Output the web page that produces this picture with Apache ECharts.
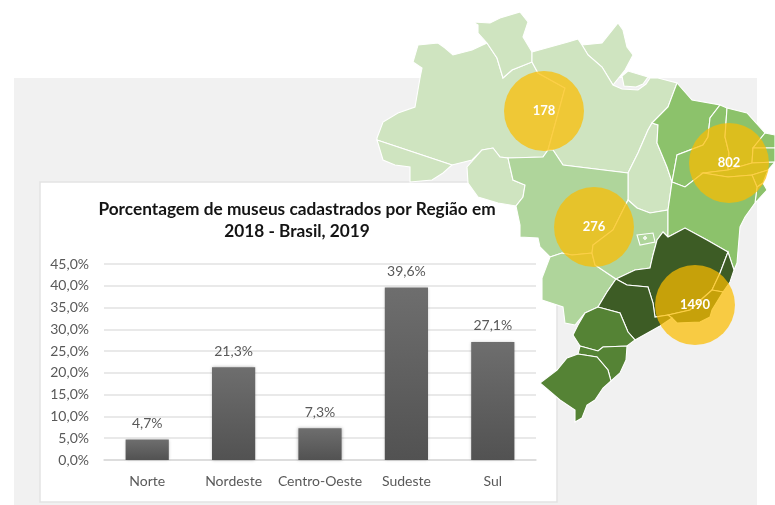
<!DOCTYPE html>
<html><head><meta charset="utf-8">
<style>html,body{margin:0;padding:0;background:#fff}#c{width:775px;height:505px;filter:blur(0.45px)}</style>
<script src="https://cdn.jsdelivr.net/npm/echarts@6/dist/echarts.min.js"></script>
</head><body><div id="c"></div>
<script>
const categories = ['Norte','Nordeste','Centro-Oeste','Sudeste','Sul'];
const percentages = [4.7,21.3,7.3,39.6,27.1];
const yTicks = {min:0,max:45,interval:5};
const titleText = 'Porcentagem de museus cadastrados por Região em\n2018 - Brasil, 2019';
const museumCounts = [178,802,276,1490];
const bubbleAnchors = [[544,111],[729,163],[594,227],[695,305]];

const regionColors = {N:'#cfe4c0',NE:'#8cc26b',CO:'#afd59b',SE:'#3d5c25',S:'#558335'};
const mapShapes = [
 ['AM','N',[[377,138],[383,122],[398,113],[415,107],[420,78],[422,68],[413,62],[418,45],[438,43],[445,48],[453,55],[472,50],[487,43],[497,58],[503,78],[512,70],[532,62],[538,73],[565,88],[548,150],[543,157],[508,158],[500,157],[493,148],[482,150],[472,160],[452,165],[377,140]]],
 ['AC','N',[[377,140],[452,165],[443,173],[432,180],[410,182],[410,167],[395,165],[383,160]]],
 ['RR','N',[[473,22],[490,23],[500,18],[520,12],[528,22],[523,37],[532,52],[532,62],[512,70],[503,78],[497,58],[487,43],[478,33],[478,25]]],
 ['AP','N',[[582,45],[602,43],[618,23],[623,30],[627,47],[633,55],[625,70],[613,85],[602,67],[588,55]]],
 ['PA','N',[[532,52],[568,42],[578,39],[582,45],[588,55],[602,67],[613,85],[622,89],[638,90],[646,84],[650,78],[658,78],[677,83],[668,107],[652,123],[648,130],[638,153],[628,173],[563,165],[553,150],[548,150],[565,88],[538,73],[532,62]]],
 ['MJ','N',[[622,76],[628,71],[648,77],[643,84],[636,87],[624,86]]],
 ['RO','N',[[467,167],[482,150],[493,148],[500,157],[508,158],[513,180],[525,185],[523,197],[516,206],[498,203],[478,197],[468,183]]],
 ['TO','N',[[628,173],[638,153],[648,130],[652,123],[658,125],[657,143],[667,167],[672,182],[668,210],[650,213],[637,208],[628,200]]],
 ['MT','CO',[[508,158],[543,157],[548,150],[553,150],[563,165],[628,173],[628,200],[613,230],[593,245],[592,253],[572,255],[562,253],[550,257],[540,247],[538,238],[520,237],[520,225],[516,206],[523,197],[525,185],[513,180]]],
 ['MS','CO',[[550,257],[562,253],[572,255],[592,253],[595,265],[616,279],[607,292],[598,307],[585,313],[575,325],[565,323],[563,307],[542,300],[542,278]]],
 ['GO','CO',[[628,200],[637,208],[650,213],[668,210],[668,237],[663,232],[657,240],[653,255],[650,268],[635,270],[616,279],[595,265],[592,253],[593,245],[613,230]]],
 ['DF','CO',[[637,235],[653,233],[655,242],[640,245]]],
 ['DFc','CO',[[645,236.5],[646.5,238],[645,239.5],[643.5,238]]],
 ['MA','NE',[[677,83],[692,100],[720,105],[710,118],[708,137],[703,145],[677,155],[672,182],[667,167],[657,143],[658,125],[652,123],[668,107]]],
 ['PI','NE',[[720,105],[727,108],[725,137],[729,153],[728,170],[703,173],[685,187],[672,182],[677,155],[703,145],[708,137],[710,118]]],
 ['CE','NE',[[727,108],[747,113],[765,133],[753,148],[752,163],[728,170],[729,153],[725,137]]],
 ['RN','NE',[[765,133],[775,135],[775,148],[753,148]]],
 ['PB','NE',[[753,148],[775,148],[775,162],[752,163]]],
 ['PE','NE',[[752,163],[775,162],[768,170],[752,175],[728,177],[703,173],[728,170]]],
 ['AL','NE',[[752,175],[768,170],[763,183],[757,187]]],
 ['SE','NE',[[757,187],[763,183],[767,190],[755,203]]],
 ['BA','NE',[[672,182],[685,187],[703,173],[728,177],[752,175],[757,187],[755,203],[745,217],[740,227],[737,263],[734,270],[728,252],[707,240],[685,228],[668,237],[668,210]]],
 ['MG','SE',[[663,232],[668,237],[685,228],[707,240],[728,252],[720,273],[712,290],[703,298],[690,310],[668,315],[655,317],[653,303],[648,287],[627,285],[616,279],[635,270],[650,268],[653,255],[657,240]]],
 ['ES','SE',[[728,252],[734,270],[730,282],[723,292],[712,290],[720,273]]],
 ['RJ','SE',[[668,315],[690,310],[703,298],[712,290],[723,292],[712,310],[710,317],[700,322],[677,323],[672,318]]],
 ['SP','SE',[[598,307],[607,292],[616,279],[627,285],[648,287],[653,303],[655,317],[668,315],[672,318],[660,326],[635,340],[628,332],[620,313]]],
 ['PR','S',[[585,313],[598,307],[620,313],[628,332],[635,340],[627,346],[603,347],[598,351],[580,346],[573,335],[578,325]]],
 ['SC','S',[[580,346],[598,351],[603,347],[627,346],[626,360],[620,373],[611,381],[608,370],[597,357],[578,354]]],
 ['RS','S',[[578,354],[597,357],[608,370],[611,381],[603,388],[595,400],[587,405],[582,418],[575,422],[575,410],[560,400],[540,383],[557,370],[567,358]]]
];

const geoJson = {type:'FeatureCollection',features:mapShapes.map(s=>({type:'Feature',properties:{name:s[0]},
  geometry:{type:'Polygon',coordinates:[[...s[2],s[2][0]]]}}))};
echarts.registerMap('brasil',geoJson);

const fmt = v => v.toFixed(1).replace('.',',')+'%';
const font = 'Lato, "Open Sans", sans-serif';
const chart = echarts.init(document.getElementById('c'),null,{renderer:'canvas'});
chart.setOption({
  animation:false,
  backgroundColor:'#fff',
  graphic:[
    {type:'rect',z:-20,silent:true,shape:{x:14,y:78,width:743,height:427},style:{fill:'#f1f1f1'}},
    {type:'rect',z:-10,silent:true,shape:{x:40,y:182,width:517,height:320},style:{fill:'#fff',stroke:'#e3e3e3',lineWidth:1.5}}
  ],
  title:{text:titleText,left:292,top:193,textAlign:'center',
    textStyle:{fontFamily:font,fontWeight:'bold',fontSize:17.25,lineHeight:22,color:'#141414'}},
  grid:{left:104,right:239,top:264,bottom:45},
  xAxis:{type:'category',data:categories,
    axisLine:{lineStyle:{color:'#d9d9d9',width:1.5}},axisTick:{show:false},
    axisLabel:{interval:0,margin:14,fontFamily:font,fontSize:14,color:'#595959'}},
  yAxis:{type:'value',min:yTicks.min,max:yTicks.max,interval:yTicks.interval,
    axisLine:{show:false},axisTick:{show:false},
    splitLine:{lineStyle:{color:'#e2e2e2',width:1.5}},
    axisLabel:{margin:15,fontFamily:font,fontSize:14,color:'#595959',formatter:fmt}},
  geo:{map:'brasil',silent:true,z:1,
    projection:{project:p=>p,unproject:p=>p},
    boundingCoords:[[0,0],[775,505]],left:0,top:0,width:775,height:505,
    roam:false,label:{show:false},
    itemStyle:{borderColor:'#fff',borderWidth:1.1},
    regions:mapShapes.map(s=>({name:s[0],itemStyle:{areaColor:regionColors[s[1]]}}))},
  series:[
    {type:'bar',data:percentages,barWidth:'50%',
     itemStyle:{color:new echarts.graphic.LinearGradient(0,0,0,1,[{offset:0,color:'#6e6e6e'},{offset:1,color:'#525252'}]),
       shadowBlur:3,shadowColor:'rgba(0,0,0,0.3)'},
     label:{show:true,position:'top',distance:9,fontFamily:font,fontSize:14,color:'#595959',formatter:p=>fmt(p.value)}},
    {type:'scatter',coordinateSystem:'geo',geoIndex:0,z:5,silent:true,symbolSize:80,
     data:museumCounts.map((v,i)=>({value:[...bubbleAnchors[i],v]})),
     itemStyle:{color:'rgba(251,189,0,0.72)',opacity:1},
     label:{show:true,position:'inside',fontFamily:font,fontWeight:'bold',fontSize:13,color:'#fff',formatter:p=>String(p.value[2])}}
  ]
});
</script></body></html>
